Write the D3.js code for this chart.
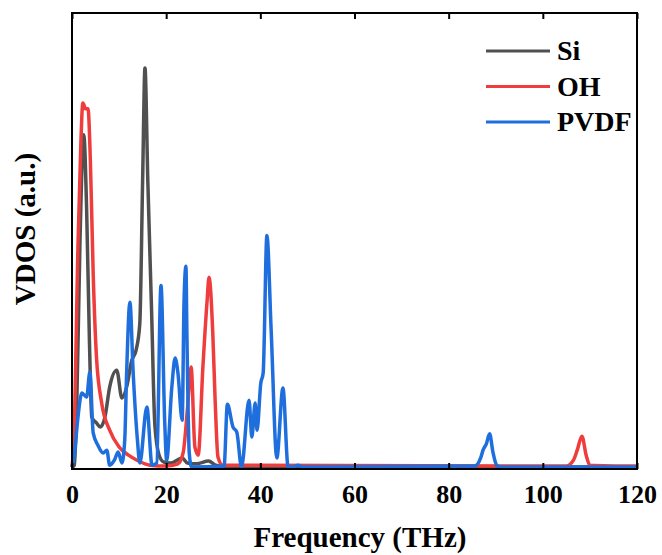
<!DOCTYPE html>
<html>
<head>
<meta charset="utf-8">
<script src="https://cdn.jsdelivr.net/npm/d3@7"></script>
<style>
  body { margin: 0; background: #fff; }
  text { font-family: "Liberation Serif", "Times New Roman", serif; font-weight: bold; fill: #000; }
</style>
</head>
<body>
<div id="vdos"></div>
<script>
// frequency (THz) / VDOS (a.u.) pairs
const siFreq = [0, 0.5, 1.0, 1.7, 2.5, 3.1, 3.7, 4.2, 5.2, 6.0, 7.0, 8.0, 9.5, 10.6, 11.6, 12.7, 13.6, 14.4, 15.0, 15.5, 16.1, 16.9, 17.6, 18.5, 19.5, 21, 23.4, 24.5, 26.5, 29, 30.5, 33, 120];
const siVal  = [0, .004, .132, .499, .732, .571, .279, .110, .097, .088, .110, .176, .213, .152, .176, .235, .257, .316, .631, .879, .631, .345, .092, .026, .011, .009, .020, .009, .007, .013, .004, 0, 0];

const ohFreq = [0, 0.4, 1.3, 1.9, 2.3, 2.9, 3.4, 3.9, 4.5, 5.2, 6.3, 8.0, 10, 12, 13.8, 16.5, 20, 22.5, 23.6, 24.5, 25.3, 26.1, 26.8, 27.8, 28.7, 29.1, 29.9, 30.4, 31.0, 32, 105, 106.5, 107.3, 108.3, 109.2, 110, 120];
const ohVal  = [0, .059, .499, .719, .802, .789, .789, .675, .426, .242, .141, .081, .044, .026, .015, .004, .002, .007, .031, .125, .220, .044, .026, .220, .367, .418, .295, .147, .022, .004, .002, .015, .037, .068, .026, .004, .002];

const pvdfFreq = [0, 0.5, 1.2, 2.1, 3.1, 3.8, 4.5, 5.5, 6.6, 7.4, 8.0, 9.0, 9.8, 10.6, 11.2, 11.6, 12.3, 13.0, 13.9, 14.4, 15.9, 17.0, 18.0, 18.9, 19.7, 20.1, 21.2, 21.9, 22.5, 23.4, 23.8, 24.2, 24.4, 24.9, 25.4, 32.3, 33.0, 34.2, 35.0, 36.0, 37.6, 38.2, 38.9, 39.3, 40.1, 40.6, 41.4, 42.3, 43.5, 44.8, 45.9, 47, 48, 49, 85.5, 86.8, 87.3, 88.0, 88.7, 89.4, 90.2, 91, 120];
const pvdfVal  = [0, .026, .103, .163, .154, .209, .075, .048, .031, .037, .004, .015, .033, .009, .059, .206, .363, .206, .059, .009, .132, .004, .009, .400, .097, .015, .176, .240, .207, .103, .367, .442, .297, .031, 0, .002, .138, .088, .077, 0, .147, .066, .141, .081, .185, .207, .510, .301, .020, .174, 0, 0, .004, 0, .002, .020, .037, .051, .073, .033, .004, 0, 0];

const seriesNames = ["Si", "OH", "PVDF"];
const xTicks = [0, 20, 40, 60, 80, 100, 120];

(function vdos_chart() {
  const width = 662,
    height = 555,
    margin = { top: 13, right: 25, bottom: 86, left: 72 };

  const svg = d3.select("#vdos")
    .append("svg")
    .attr("width", width)
    .attr("height", height);

  const x = d3.scaleLinear([0, 120], [margin.left, width - margin.right]);
  const y = d3.scaleLinear([-0.0044, 1], [height - margin.bottom, margin.top]);

  const series = [
    { name: seriesNames[0], freq: siFreq, val: siVal },
    { name: seriesNames[1], freq: ohFreq, val: ohVal },
    { name: seriesNames[2], freq: pvdfFreq, val: pvdfVal }
  ];

  const color = d3.scaleOrdinal(seriesNames, ["#505050", "#ef3c3c", "#1e6fdd"]);

  const line = d3.line()
    .x(d => x(d[0]))
    .y(d => y(d[1]))
    .curve(d3.curveMonotoneX);

  svg.append("g")
    .selectAll("path")
    .data(series)
    .join("path")
    .attr("fill", "none")
    .attr("stroke", d => color(d.name))
    .attr("stroke-width", 3.5)
    .attr("stroke-linejoin", "round")
    .attr("d", d => line(d.freq.map((f, i) => [f, d.val[i]])));

  // ticks point inwards, top and bottom
  const xAxis = svg.append("g")
    .attr("transform", `translate(0,${height - margin.bottom})`)
    .call(d3.axisBottom(x).tickValues(xTicks).tickSize(-6).tickPadding(16).tickSizeOuter(0));

  xAxis.select(".domain").remove();
  xAxis.selectAll("line").attr("stroke", "#000").attr("stroke-width", 2);
  xAxis.selectAll("text")
    .style("font-family", "'Liberation Serif', serif")
    .style("font-weight", "bold")
    .style("font-size", "26px")
    .attr("fill", "#000");

  const xTop = svg.append("g")
    .attr("transform", `translate(0,${margin.top})`)
    .call(d3.axisTop(x).tickValues(xTicks).tickSize(-6).tickFormat("").tickSizeOuter(0));

  xTop.select(".domain").remove();
  xTop.selectAll("line").attr("stroke", "#000").attr("stroke-width", 2);

  svg.append("rect")
    .attr("x", margin.left)
    .attr("y", margin.top)
    .attr("width", width - margin.right - margin.left)
    .attr("height", height - margin.bottom - margin.top)
    .attr("fill", "none")
    .attr("stroke", "#000")
    .attr("stroke-width", 2);

  svg.append("text")
    .attr("text-anchor", "middle")
    .attr("x", 360)
    .attr("y", 547)
    .style("font-size", "29px")
    .text("Frequency (THz)");

  svg.append("text")
    .attr("text-anchor", "middle")
    .attr("transform", "translate(35,229) rotate(-90)")
    .style("font-size", "29px")
    .text("VDOS (a.u.)");

  let legendGroup = svg.selectAll(".legend-group")
    .data(seriesNames)
    .join("g")
    .attr("class", "legend-group");

  legendGroup.append("line")
    .attr("x1", 486)
    .attr("x2", 550)
    .attr("y1", (d, i) => 51 + i * 35.5)
    .attr("y2", (d, i) => 51 + i * 35.5)
    .attr("stroke", d => color(d))
    .attr("stroke-width", 3);

  legendGroup.append("text")
    .attr("x", 557)
    .attr("y", (d, i) => 51 + i * 35.5)
    .attr("dy", "0.33em")
    .style("font-size", "28px")
    .text(d => d);
})();
</script>
</body>
</html>
